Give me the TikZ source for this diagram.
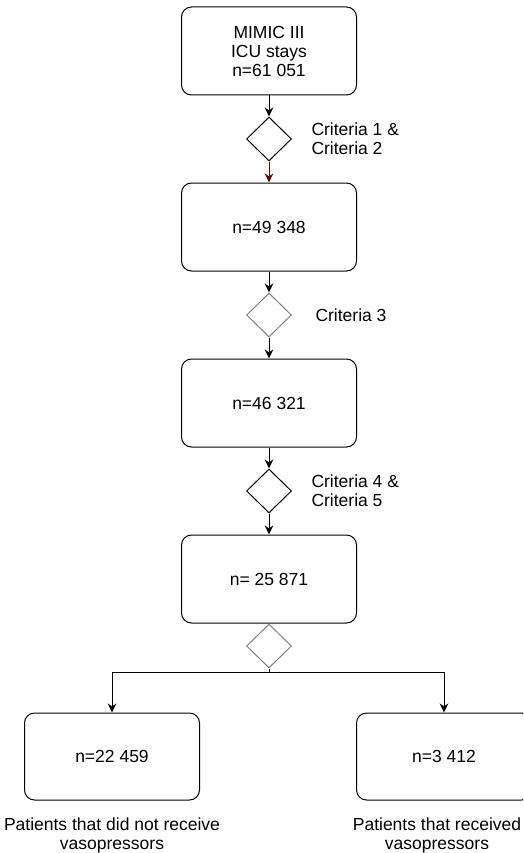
\documentclass[tikz,border=0pt]{standalone}
\usepackage{fontspec}
\setmainfont{Liberation Sans}
\usetikzlibrary{positioning,arrows.meta,shapes.geometric}
\definecolor{arrowred}{RGB}{90,10,10}

\begin{document}
\begin{tikzpicture}[>={Stealth[length=9pt,width=8.5pt]},
			node distance=21pt,
			line width=1pt,
			every node/.style={font=\fontsize{17.5}{19}\selectfont},
			box/.style={
				draw,
				rounded corners=10pt,
				minimum width=175pt,
				minimum height=88pt,
				align=center
			},
			dec/.style={
				draw,
				diamond,
				inner sep=0pt,
				minimum width=45pt,
				minimum height=44pt
			},
			crit/.style={align=left,inner sep=0pt}]
			
			\clip (0,0) rectangle (523pt,-853pt);
			
			\node[box] (mimic) at (269pt,-51pt){MIMIC III\\ICU stays\\n=61 051};
			
			\node[dec] (dec1)[below=of mimic]{};
			
			\node[crit] (crit1)[right=19pt of dec1]{Criteria 1 \&\\Criteria 2};
			
			\node[box] (stays1)[below=of dec1]{n=49 348};
			
			\node[dec,draw=gray] (dec2)[below=of stays1]{};
			
			\node[crit] (crit2)[right=23pt of dec2]{Criteria 3};
			
			\node[box] (stays2)[below=of dec2]{n=46 321};
			
			\node[dec] (dec3)[below=of stays2]{};
			
			\node[crit] (crit3)[right=19pt of dec3]{Criteria 4 \&\\Criteria 5};
			
			\node[box] (stays3)[below=of dec3]{n= 25 871};
			
			\node[dec,draw=gray] (dec4)[below=0pt of stays3]{};
			
			\coordinate (split) at ([yshift=-4pt]dec4.south);
			
			\node[box,minimum height=87pt] (nopress) at (112pt,-756.5pt){n=22 459};
			
			\node[box,minimum height=87pt] (press) at (444pt,-756.5pt){n=3 412};
			
			\node[crit,align=center] (nolabel)[below=17pt of nopress]{Patients that did not receive\\vasopressors};
			
			\node[crit,align=center] (label)[below=17pt of press,xshift=-7pt]{Patients that received\\vasopressors};
			
			\draw[->](mimic)--(dec1);
			
			\draw[->,arrowred](dec1)--(stays1);
			
			\draw[->](stays1)--(dec2);
			
			\draw[->](dec2)--(stays2);
			
			\draw[->](stays2)--(dec3);
			
			\draw[->](dec3)--(stays3);
			
			\draw(dec4.south)--(split);
			
			\draw[->](split)-|(nopress.north);
			
			\draw[->](split)-|(press.north);
			
		\end{tikzpicture}
\end{document}
